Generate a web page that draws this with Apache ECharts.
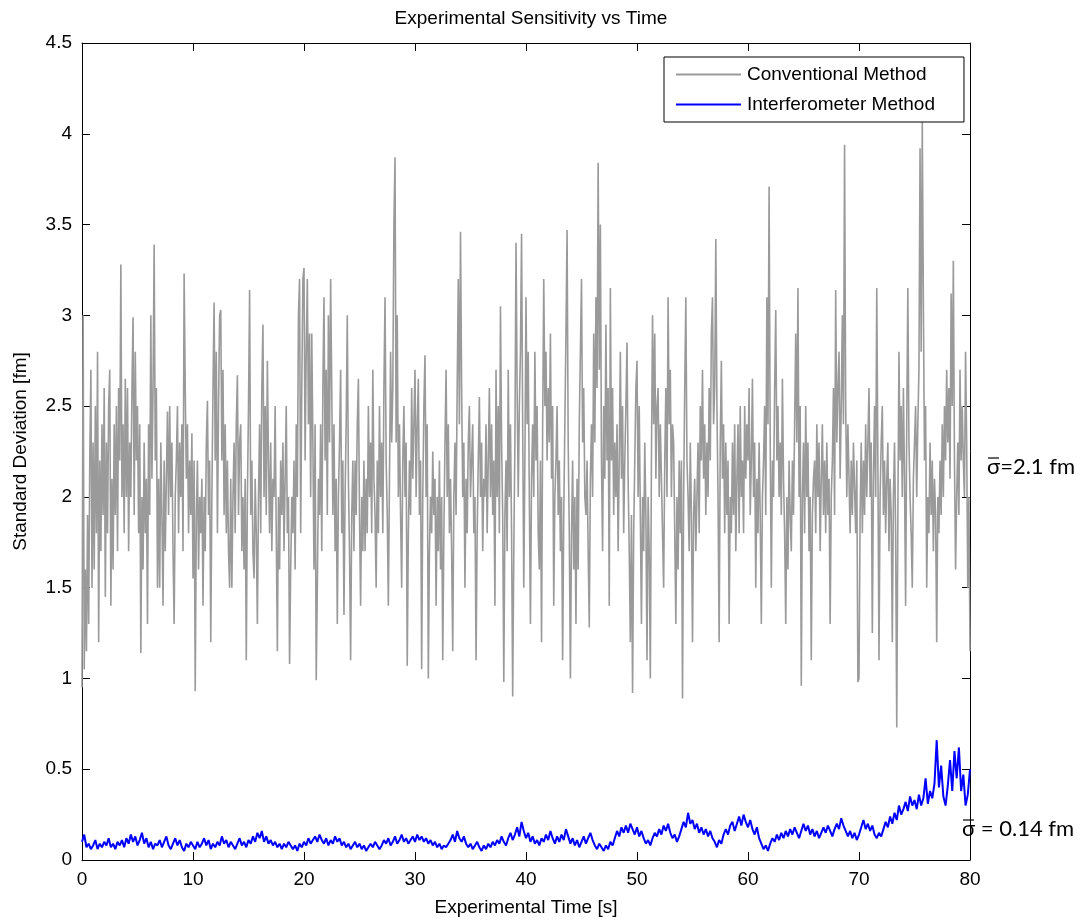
<!DOCTYPE html>
<html>
<head>
<meta charset="utf-8">
<script src="https://cdn.jsdelivr.net/npm/echarts@6/dist/echarts.min.js"></script>
<style>
  html, body { margin: 0; padding: 0; background: #fff; }
  #chart { width: 1090px; height: 922px; }
</style>
</head>
<body>
<div id="chart"></div>
<script>
// Conventional method: standard deviation sampled every 0.1 s (one row per second)
const conventionalStep = 0.1;
const conventional = [
  0.95,3.0,1.05,1.6,1.15,1.9,1.3,2.2,2.7,1.5,
  2.3,1.6,2.5,1.8,2.8,1.2,2.2,1.7,2.4,1.9,
  2.6,1.45,2.3,1.8,2.5,2.7,1.4,2.1,1.6,2.4,
  1.9,2.5,1.7,2.6,2.2,3.28,2.0,2.4,1.8,2.65,
  2.0,2.6,1.7,2.3,2.0,2.6,2.99,1.9,2.8,2.2,
  2.5,1.8,2.4,1.14,2.0,1.6,2.3,1.8,2.1,1.3,
  2.4,1.9,3.0,2.1,2.6,3.39,2.2,2.6,1.5,2.1,
  1.5,2.3,1.9,1.4,2.2,1.7,2.1,2.47,1.9,2.5,
  2.0,2.3,1.7,1.3,2.0,2.2,2.5,1.8,2.3,2.0,
  2.4,1.7,3.23,2.6,2.1,2.4,1.8,2.2,1.9,2.35,
  1.55,2.2,0.93,1.9,2.2,1.6,2.0,1.8,2.1,1.4,
  2.0,1.7,2.3,2.53,1.9,2.2,1.2,2.0,2.6,3.07,
  2.2,2.8,1.8,2.5,3.0,3.03,2.2,2.7,1.9,2.4,
  1.8,2.2,1.7,1.5,2.1,1.5,2.0,2.3,1.8,2.4,
  2.67,1.9,2.3,2.4,1.7,2.0,1.6,2.1,1.1,2.0,
  2.5,3.14,1.9,2.2,1.7,1.55,2.1,1.8,1.3,2.0,
  2.4,1.8,2.6,2.95,2.0,2.5,1.9,2.75,2.2,1.8,
  2.3,1.7,2.1,2.0,2.5,1.8,1.15,2.0,1.6,2.2,
  1.9,2.3,1.7,2.1,2.5,1.8,2.0,1.08,1.6,2.0,
  1.8,2.2,1.6,2.4,2.0,3.0,3.2,1.8,2.6,3.2,
  3.26,2.2,2.8,3.2,2.4,2.9,2.0,2.9,2.3,1.6,
  2.4,0.99,1.5,2.1,1.9,2.4,1.7,2.6,3.1,2.2,
  2.7,1.9,3.0,2.3,3.2,2.6,1.9,2.4,1.7,2.1,
  1.3,2.0,2.3,2.7,1.8,2.2,1.35,2.0,2.4,3.0,
  2.1,1.7,1.1,1.9,2.2,1.7,2.2,1.9,2.4,2.65,
  1.9,1.4,2.0,1.7,2.2,1.7,2.1,1.8,2.5,2.0,
  2.3,1.8,2.7,2.1,1.9,1.5,2.2,1.8,2.5,2.0,
  2.3,1.8,2.6,3.1,2.2,1.9,1.4,2.1,2.8,2.3,
  2.6,3.5,3.87,2.3,3.0,2.0,2.4,1.9,1.5,2.2,
  2.5,2.0,2.3,1.07,1.8,2.2,1.9,2.6,2.1,2.4,
  2.7,2.0,2.4,2.65,1.9,2.2,1.05,2.0,2.5,2.78,
  2.0,2.4,1.0,1.7,2.0,1.8,2.25,1.9,2.1,1.4,
  2.0,1.7,2.2,1.6,2.0,1.1,1.8,2.3,2.7,2.0,
  2.4,1.8,2.1,1.7,1.15,2.0,2.3,1.9,2.6,3.2,
  2.4,3.46,2.6,2.0,2.3,1.5,2.1,1.8,2.3,2.5,
  2.0,2.2,2.4,1.8,2.0,1.1,1.8,2.2,2.55,2.0,
  2.3,1.7,2.1,2.0,2.4,1.8,2.2,2.6,2.0,2.4,
  1.9,2.2,1.4,2.7,2.0,2.5,1.8,3.05,2.3,1.9,
  0.98,1.9,2.2,1.7,2.7,2.0,2.4,1.8,0.9,1.7,
  2.3,3.4,2.6,2.0,2.5,2.8,3.45,2.4,1.5,2.2,
  3.1,2.4,2.8,2.0,1.3,2.1,2.4,2.0,2.8,2.2,
  2.5,1.8,1.6,2.2,1.2,2.4,3.2,2.5,2.8,2.2,
  2.6,2.3,2.9,2.1,2.5,1.4,2.0,2.2,2.5,1.9,
  2.2,1.7,2.0,1.1,1.9,2.4,2.9,3.47,2.3,1.8,
  1.0,1.8,2.2,1.6,2.0,1.3,2.1,1.6,2.4,2.8,
  3.2,2.3,2.6,2.0,1.9,2.2,1.7,1.28,2.1,2.4,
  2.0,2.9,2.3,3.1,2.6,3.84,2.7,3.5,2.2,1.7,
  2.5,2.1,2.95,2.2,2.6,1.4,3.15,2.2,2.6,1.9,
  2.3,2.0,2.4,1.7,2.2,2.8,2.1,2.5,1.8,2.2,
  2.5,2.85,2.1,1.7,1.2,1.9,0.92,1.8,2.2,2.6,
  2.75,2.0,2.5,1.9,1.3,2.0,1.7,2.3,1.9,1.1,
  2.0,1.7,1.0,2.2,3.0,2.4,2.9,2.1,2.5,2.6,
  2.0,2.4,2.4,1.8,1.5,2.2,2.6,2.0,3.1,2.4,
  2.7,2.0,2.4,2.3,1.8,1.3,2.0,1.6,2.2,1.8,
  2.2,0.89,2.0,2.6,3.1,2.2,2.0,1.7,2.3,1.9,
  1.2,1.9,2.1,1.7,2.0,2.3,1.8,2.5,2.2,2.7,
  2.1,2.4,1.9,2.3,2.0,2.6,2.2,2.9,3.1,2.4,
  2.6,3.42,2.5,2.0,1.2,2.3,2.75,2.1,2.4,1.8,
  2.3,1.9,2.2,1.3,2.0,1.8,2.3,1.9,2.4,1.7,
  2.1,2.4,1.8,2.5,2.0,2.2,1.8,2.5,2.1,2.4,
  2.2,2.6,1.9,2.2,2.65,2.0,2.3,1.5,2.1,1.8,
  2.3,1.9,1.3,2.0,2.2,2.5,1.9,3.1,2.4,3.71,
  2.3,1.5,2.2,2.0,2.6,3.03,2.2,2.5,2.0,2.3,
  1.9,2.65,2.1,1.8,1.3,2.0,1.6,2.2,1.9,1.7,
  2.2,1.9,2.4,2.9,2.3,3.15,2.0,2.5,0.96,2.0,
  2.3,1.8,2.5,2.0,2.3,1.7,2.0,1.1,1.9,2.1,
  2.2,1.8,2.4,2.0,2.3,1.7,2.1,2.4,1.9,2.2,
  1.8,2.3,1.9,2.1,1.3,2.0,2.2,2.6,1.9,3.14,
  2.3,2.6,2.8,2.1,2.5,3.0,2.4,3.94,2.5,2.0,
  2.4,2.1,1.8,2.2,1.9,2.3,2.3,1.8,2.2,0.98,
  1.0,1.9,2.3,1.8,2.2,1.9,2.4,2.0,2.3,2.6,
  2.0,2.3,1.25,2.1,2.5,2.0,3.15,2.2,1.1,2.0,
  2.3,2.5,1.9,2.2,1.8,2.1,2.3,1.7,2.1,1.9,
  1.2,2.0,2.3,1.8,0.73,1.9,2.8,2.2,2.5,2.0,
  2.6,2.1,1.4,2.4,3.15,2.3,2.0,1.8,1.5,2.1,
  2.3,2.5,2.0,2.4,2.7,3.92,2.8,4.07,3.05,2.2,
  2.5,1.5,2.0,1.8,2.3,1.9,2.2,1.7,2.1,1.9,
  1.2,2.0,1.8,2.2,1.9,2.4,2.0,2.5,2.2,2.7,
  2.3,2.6,2.1,3.12,2.5,3.3,2.2,1.6,2.0,2.3,
  1.9,2.7,2.2,2.5,2.2,2.0,2.8,2.3,1.5,2.0,
  1.15
];

// Interferometer method: standard deviation sampled every 0.2 s (one row per second)
const interferometerStep = 0.2;
const interferometer = [
  0.10,0.14,0.07,0.09,0.06, 0.08,0.11,0.06,0.09,0.07,
  0.10,0.08,0.12,0.07,0.09, 0.06,0.10,0.08,0.11,0.07,
  0.12,0.09,0.14,0.10,0.13, 0.08,0.11,0.15,0.09,0.12,
  0.07,0.10,0.06,0.09,0.08, 0.11,0.07,0.10,0.13,0.08,
  0.06,0.09,0.12,0.08,0.11, 0.07,0.05,0.09,0.07,0.10,
  0.08,0.06,0.10,0.07,0.09, 0.12,0.08,0.11,0.06,0.09,
  0.07,0.10,0.08,0.13,0.09, 0.11,0.07,0.10,0.08,0.06,
  0.09,0.12,0.08,0.10,0.07, 0.11,0.09,0.13,0.10,0.15,
  0.12,0.16,0.10,0.13,0.09, 0.11,0.08,0.10,0.07,0.09,
  0.06,0.09,0.07,0.10,0.08, 0.06,0.08,0.05,0.09,0.07,
  0.10,0.08,0.12,0.09,0.11, 0.13,0.10,0.14,0.11,0.09,
  0.12,0.08,0.11,0.09,0.13, 0.10,0.12,0.08,0.10,0.07,
  0.09,0.06,0.08,0.10,0.07, 0.09,0.06,0.08,0.05,0.07,
  0.09,0.07,0.10,0.08,0.06, 0.08,0.11,0.09,0.12,0.08,
  0.10,0.13,0.09,0.11,0.14, 0.10,0.12,0.09,0.11,0.13,
  0.10,0.14,0.11,0.13,0.10, 0.12,0.09,0.11,0.08,0.10,
  0.07,0.09,0.06,0.08,0.07, 0.09,0.11,0.14,0.10,0.16,
  0.12,0.10,0.13,0.09,0.07, 0.09,0.06,0.08,0.10,0.07,
  0.05,0.08,0.06,0.09,0.07, 0.10,0.08,0.11,0.09,0.13,
  0.10,0.08,0.12,0.15,0.11, 0.14,0.18,0.13,0.21,0.16,
  0.12,0.15,0.10,0.13,0.09, 0.11,0.08,0.12,0.10,0.14,
  0.11,0.16,0.12,0.09,0.13, 0.10,0.14,0.11,0.17,0.13,
  0.09,0.12,0.08,0.11,0.07, 0.10,0.13,0.09,0.12,0.15,
  0.11,0.08,0.06,0.09,0.07, 0.05,0.08,0.06,0.10,0.08,
  0.12,0.16,0.13,0.18,0.15, 0.19,0.15,0.20,0.17,0.14,
  0.18,0.13,0.16,0.12,0.09, 0.11,0.08,0.12,0.15,0.13,
  0.17,0.14,0.19,0.16,0.20, 0.15,0.12,0.14,0.10,0.13,
  0.17,0.21,0.18,0.26,0.20, 0.22,0.17,0.20,0.15,0.18,
  0.14,0.17,0.13,0.16,0.12, 0.10,0.07,0.11,0.09,0.14,
  0.17,0.14,0.19,0.21,0.16, 0.20,0.24,0.19,0.25,0.21,
  0.18,0.22,0.17,0.14,0.18, 0.12,0.09,0.06,0.08,0.05,
  0.09,0.12,0.10,0.14,0.11, 0.15,0.12,0.16,0.13,0.17,
  0.14,0.18,0.15,0.12,0.16, 0.20,0.16,0.19,0.14,0.17,
  0.13,0.16,0.12,0.15,0.18, 0.15,0.19,0.16,0.13,0.17,
  0.20,0.17,0.23,0.19,0.16, 0.13,0.16,0.12,0.15,0.11,
  0.14,0.18,0.22,0.17,0.20, 0.16,0.19,0.14,0.12,0.15,
  0.13,0.17,0.21,0.18,0.24, 0.20,0.26,0.22,0.30,0.25,
  0.28,0.32,0.27,0.35,0.30, 0.33,0.28,0.36,0.30,0.34,
  0.45,0.31,0.38,0.34,0.42, 0.66,0.40,0.52,0.35,0.30,
  0.41,0.55,0.38,0.60,0.45, 0.62,0.38,0.47,0.30,0.36,
  0.50
];

const seriesNames = ['Conventional Method', 'Interferometer Method'];
const xTicks = { min: 0, max: 80, interval: 10 };
const yTicks = { min: 0, max: 4.5, interval: 0.5 };
const meanLabels = ['σ=2.1 fm', 'σ = 0.14 fm'];

const toPairs = (vals, step) => vals.map((v, i) => [+(i * step).toFixed(2), v]);

const FONT = '"Liberation Sans", Arial, sans-serif';
const chart = echarts.init(document.getElementById('chart'), null, { renderer: 'canvas' });

const axisCommon = {
  axisLine: { show: true, onZero: false, lineStyle: { color: '#000', width: 1 } },
  axisTick: { show: true, inside: true, length: 8, lineStyle: { color: '#000', width: 1 } },
  splitLine: { show: false }
};

chart.setOption({
  animation: false,
  backgroundColor: '#fff',
  title: {
    text: 'Experimental Sensitivity vs Time',
    left: 526,
    top: 4,
    textAlign: 'center',
    textStyle: { fontFamily: FONT, fontSize: 19, fontWeight: 'normal', color: '#000' }
  },
  grid: { left: 82, right: 120, top: 43, bottom: 62, containLabel: false },
  legend: {
    orient: 'vertical',
    left: 664,
    top: 57,
    data: seriesNames,
    icon: 'rect',
    itemWidth: 65,
    itemHeight: 2,
    itemGap: 9,
    padding: [7, 29, 7, 12],
    backgroundColor: '#fff',
    borderColor: '#000',
    borderWidth: 1,
    borderRadius: 0,
    textStyle: { fontFamily: FONT, fontSize: 19, color: '#000', padding: [0, 0, 0, 1], lineHeight: 21 }
  },
  xAxis: [
    Object.assign({
      type: 'value', position: 'bottom',
      min: xTicks.min, max: xTicks.max, interval: xTicks.interval,
      name: 'Experimental Time [s]', nameLocation: 'middle', nameGap: 38,
      nameTextStyle: { fontFamily: FONT, fontSize: 19, color: '#000' },
      axisLabel: { fontFamily: FONT, fontSize: 19, color: '#000', margin: 10 }
    }, axisCommon),
    Object.assign({
      type: 'value', position: 'top',
      min: xTicks.min, max: xTicks.max, interval: xTicks.interval,
      axisLabel: { show: false }
    }, axisCommon)
  ],
  yAxis: [
    Object.assign({
      type: 'value', position: 'left',
      min: yTicks.min, max: yTicks.max, interval: yTicks.interval,
      name: 'Standard Deviation [fm]', nameLocation: 'middle', nameGap: 52,
      nameTextStyle: { fontFamily: FONT, fontSize: 19, color: '#000' },
      axisLabel: { fontFamily: FONT, fontSize: 19, color: '#000', margin: 10 }
    }, axisCommon),
    Object.assign({
      type: 'value', position: 'right',
      min: yTicks.min, max: yTicks.max, interval: yTicks.interval,
      axisLabel: { show: false }
    }, axisCommon)
  ],
  series: [
    {
      name: seriesNames[0], type: 'line', xAxisIndex: 0, yAxisIndex: 0,
      data: toPairs(conventional, conventionalStep),
      showSymbol: false, symbol: 'none', clip: true,
      color: '#9a9a9a',
      lineStyle: { color: '#9a9a9a', width: 1.6 }
    },
    {
      name: seriesNames[1], type: 'line', xAxisIndex: 0, yAxisIndex: 0,
      data: toPairs(interferometer, interferometerStep),
      showSymbol: false, symbol: 'none', clip: true,
      color: '#0000ff',
      lineStyle: { color: '#0000ff', width: 2 }
    }
  ]
});

// Mean annotations beside the right edge of the plot, sigma drawn with an overbar
const NOTE_FONT = 'Lato, "Open Sans", sans-serif';
const notes = [
  { text: meanLabels[0], x: 987, y: 468 },
  { text: meanLabels[1], x: 962, y: 830 }
];
const graphics = [];
notes.forEach(n => {
  graphics.push({
    type: 'text', left: n.x, top: n.y - 12,
    style: { text: n.text, font: '22px ' + NOTE_FONT, fill: '#000' }
  });
  graphics.push({
    type: 'line',
    shape: { x1: n.x + 1, y1: n.y - 10, x2: n.x + 12, y2: n.y - 10 },
    style: { stroke: '#000', lineWidth: 1.2 }
  });
});
chart.setOption({ graphic: graphics });
</script>
</body>
</html>
